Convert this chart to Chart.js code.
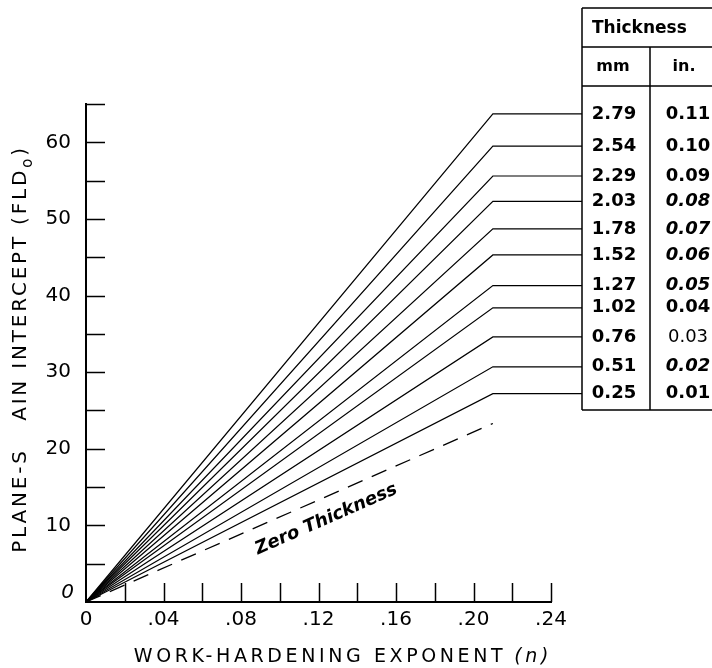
<!DOCTYPE html>
<html>
<head>
<meta charset="utf-8">
<script src="https://cdn.jsdelivr.net/npm/chart.js@4.4.1/dist/chart.umd.min.js"></script>
<style>
  body { margin: 0; background: #fff; }
  canvas { display: block; }
</style>
</head>
<body>
<canvas id="fldChart" width="712" height="668"></canvas>
<script>
// sheet thickness rows, top to bottom
const thicknessMm = ["2.79", "2.54", "2.29", "2.03", "1.78", "1.52", "1.27", "1.02", "0.76", "0.51", "0.25"];
const thicknessIn = ["0.11", "0.10", "0.09", "0.08", "0.07", "0.06", "0.05", "0.04", "0.03", "0.02", "0.01"];
// FLDo reached at the end of each sloped line
const fldAtBend = [63.7, 59.5, 55.6, 52.3, 48.7, 45.3, 41.3, 38.4, 34.6, 30.7, 27.2];
const zeroThicknessEnd = 23.3;
const bendN = 0.21;     // n where the lines turn flat
const tableN = 0.256;   // n where the flat lines meet the table
const xTickLabels = ["0", ".04", ".08", ".12", ".16", ".20", ".24"];
const yTickLabels = [10, 20, 30, 40, 50, 60];

const canvas = document.getElementById("fldChart");
const FONT = "'DejaVu Sans', sans-serif";

var datasets = fldAtBend.map((v) => ({
    data: [{ x: 0, y: 0 }, { x: bendN, y: v }, { x: tableN, y: v }],
    borderColor: "#000",
    borderWidth: 1.2,
    pointRadius: 0,
    showLine: true,
    clip: false,
}));
datasets.push({
    data: [{ x: 0, y: 0 }, { x: bendN, y: zeroThicknessEnd }],
    borderColor: "#000",
    borderWidth: 1.3,
    borderDash: [16, 10],
    pointRadius: 0,
    showLine: true,
    clip: false,
});

// italic variants in the "in." column
const inStyles = ["bold", "bold", "bold", "italic bold", "italic bold", "italic bold", "italic bold", "bold", "normal", "italic bold", "bold"];

const decor = {
    id: "decor",
    afterDraw(chart) {
        const { ctx, chartArea: a, scales: { x, y } } = chart;
        ctx.save();
        ctx.strokeStyle = "#000";
        ctx.fillStyle = "#000";

        // tick marks point into the plot
        ctx.lineWidth = 1.5;
        ctx.beginPath();
        y.ticks.forEach((t) => {
            if (t.value === 0) return;
            const py = Math.round(y.getPixelForValue(t.value)) + 0.5;
            ctx.moveTo(a.left, py);
            ctx.lineTo(a.left + 19, py);
        });
        x.ticks.forEach((t) => {
            if (t.value === 0) return;
            const px = Math.round(x.getPixelForValue(t.value)) + 0.5;
            ctx.moveTo(px, a.bottom);
            ctx.lineTo(px, a.bottom - 19);
        });
        ctx.stroke();

        // italic zero on the y axis
        ctx.font = "italic 20px " + FONT;
        ctx.textAlign = "right";
        ctx.textBaseline = "middle";
        ctx.fillText("0", a.left - 12, y.getPixelForValue(0) - 9);

        // thickness table
        const tl = x.getPixelForValue(tableN);
        const right = chart.width + 5;
        const top = 8, h1 = 47, h2 = 86, bottom = 410, colX = tl + 68;
        ctx.lineWidth = 1.5;
        ctx.beginPath();
        ctx.moveTo(tl, top); ctx.lineTo(right, top);
        ctx.moveTo(tl, top); ctx.lineTo(tl, bottom);
        ctx.moveTo(tl, h1); ctx.lineTo(right, h1);
        ctx.moveTo(tl, h2); ctx.lineTo(right, h2);
        ctx.moveTo(tl, bottom); ctx.lineTo(right, bottom);
        ctx.moveTo(colX, h1); ctx.lineTo(colX, bottom);
        ctx.stroke();

        ctx.textBaseline = "middle";
        ctx.font = "bold 17px " + FONT;
        ctx.textAlign = "left";
        ctx.fillText("Thickness", tl + 10, (top + h1) / 2 + 1);
        ctx.textAlign = "center";
        ctx.font = "bold 16px " + FONT;
        ctx.fillText("mm", (tl + colX) / 2 - 3, (h1 + h2) / 2);
        ctx.fillText("in.", colX + 34, (h1 + h2) / 2);
        thicknessMm.forEach((mm, i) => {
            const py = y.getPixelForValue(fldAtBend[i]);
            ctx.font = "bold 18px " + FONT;
            ctx.fillText(mm, (tl + colX) / 2 - 2, py);
            ctx.font = inStyles[i] + " 18px " + FONT;
            ctx.fillText(thicknessIn[i], colX + 38, py);
        });

        // label under the dashed line
        const x0 = x.getPixelForValue(0), y0 = y.getPixelForValue(0);
        const x1 = x.getPixelForValue(bendN), y1 = y.getPixelForValue(zeroThicknessEnd);
        const ang = Math.atan2(y1 - y0, x1 - x0);
        const ln = 0.57;
        ctx.translate(x0 + (x1 - x0) * ln, y0 + (y1 - y0) * ln);
        ctx.rotate(ang);
        ctx.font = "italic bold 18px " + FONT;
        ctx.textAlign = "center";
        ctx.textBaseline = "middle";
        ctx.fillText("Zero Thickness", 0, 21);
        ctx.setTransform(1, 0, 0, 1, 0, 0);

        // axis titles, spaced out like the original lettering
        ctx.font = "19px " + FONT;
        ctx.letterSpacing = "3.6px";
        ctx.textAlign = "center";
        ctx.textBaseline = "middle";
        ctx.fillText("WORK-HARDENING EXPONENT", 320, 657);
        const wx = ctx.measureText("WORK-HARDENING EXPONENT").width;
        ctx.font = "italic 19px " + FONT;
        ctx.textAlign = "left";
        ctx.fillText("(n)", 320 + wx / 2 + 8, 657);

        ctx.translate(21, 349);
        ctx.rotate(-Math.PI / 2);
        ctx.letterSpacing = "2.8px";
        ctx.font = "20px " + FONT;
        const main = "PLANE-S   AIN INTERCEPT (FLD";
        const wm = ctx.measureText(main).width;
        ctx.font = "15px " + FONT;
        const wo = ctx.measureText("o").width;
        ctx.font = "20px " + FONT;
        const wc = ctx.measureText(")").width;
        let sx = -(wm + wo + wc) / 2;
        ctx.textAlign = "left";
        ctx.fillText(main, sx, 0);
        sx += wm;
        ctx.font = "15px " + FONT;
        ctx.fillText("o", sx, 7);
        sx += wo;
        ctx.font = "20px " + FONT;
        ctx.fillText(")", sx, 0);
        ctx.restore();
    },
};

var fldChart = new Chart(canvas, {
    type: "scatter",
    data: { datasets: datasets },
    options: {
        responsive: false,
        animation: false,
        layout: { padding: { left: 0, right: 161, top: 104, bottom: 0 } },
        plugins: { legend: { display: false }, tooltip: { enabled: false } },
        scales: {
            x: {
                type: "linear",
                min: 0,
                max: 0.24,
                afterFit: (s) => { s.height = 66; },
                grid: { display: false, drawTicks: false },
                border: { display: true, color: "#000", width: 2 },
                ticks: {
                    stepSize: 0.02,
                    autoSkip: false,
                    maxRotation: 0,
                    padding: 6,
                    color: "#000",
                    font: { family: FONT, size: 20 },
                    callback: (v) => {
                        const k = Math.round(v * 100);
                        return k % 4 === 0 ? xTickLabels[k / 4] : "";
                    },
                },
            },
            y: {
                min: 0,
                max: 65,
                afterFit: (s) => { s.width = 86; },
                grid: { display: false, drawTicks: false },
                border: { display: true, color: "#000", width: 2 },
                ticks: {
                    stepSize: 5,
                    autoSkip: false,
                    padding: 15,
                    color: "#000",
                    font: { family: FONT, size: 20 },
                    callback: (v) => (yTickLabels.includes(v) ? String(v) : ""),
                },
            },
        },
    },
    plugins: [decor],
});
</script>
</body>
</html>
